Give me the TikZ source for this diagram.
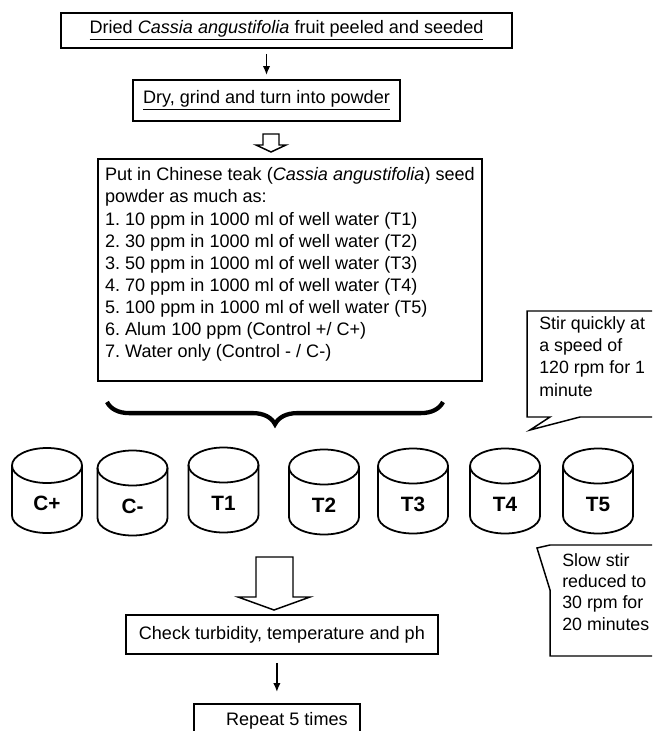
\documentclass[tikz,border=0pt]{standalone}
\usepackage{fontspec}
\setmainfont{Liberation Sans}
\usetikzlibrary{arrows.meta,decorations.pathreplacing}

\def\echelle{0.675pt}

% une cuve : x, y du centre, nom, etiquette
\newcommand{\cuve}[4]{%
  \draw[cuve] (#1,#2-25) ellipse [x radius=35,y radius=17.5];
  \draw[cuve] (#1-35,#2-25) -- (#1-35,#2+25) arc[start angle=180,end angle=0,x radius=35,y radius=17.5] -- (#1+35,#2-25);
  \node[etiquette] (#3) at (#1,#2+13) {#4};
}

\begin{document}
\begin{tikzpicture}[x=\echelle,y=-\echelle]
\tikzstyle{boite}=[draw,line width=1.2pt,inner sep=0pt,font=\fontsize{12.2}{14.9}\selectfont\frenchspacing]
\tikzstyle{cuve}=[line width=1.2pt]
\tikzstyle{etiquette}=[inner sep=0pt,font=\fontsize{14}{16}\selectfont\bfseries]
\tikzstyle{fleche}=[-{Latex[length=6pt,width=5pt]},line width=1.3pt]
\tikzstyle{creuse}=[draw,line width=1pt,fill=white]
\tikzstyle{bulle}=[draw,line width=1pt]
\tikzstyle{texte}=[align=left,inner sep=0pt,anchor=base west,font=\fontsize{12}{14.9}\selectfont]
\tikzstyle{accolade}=[decorate,decoration={brace,amplitude=15pt,mirror},line width=2.9pt]

\clip (0,0) rectangle (652,731);

% etapes
\node[boite,minimum width=451*\echelle,minimum height=35*\echelle] (b1) at (286.5,30.5) {\underline{Dried \textit{Cassia angustifolia} fruit peeled and seeded}};
\node[boite,minimum width=267*\echelle,minimum height=41*\echelle] (b2) at (266.5,100.5) {\underline{Dry, grind and turn into powder}};
\node[boite,anchor=north west,align=left,minimum width=384*\echelle,inner ysep=6pt] (b3) at (97,158) {Put in Chinese teak (\textit{Cassia angustifolia}) seed\\powder as much as:\\1. 10 ppm in 1000 ml of well water (T1)\\2. 30 ppm in 1000 ml of well water (T2)\\3. 50 ppm in 1000 ml of well water (T3)\\4. 70 ppm in 1000 ml of well water (T4)\\5. 100 ppm in 1000 ml of well water (T5)\\6. Alum 100 ppm (Control +/ C+)\\7. Water only (Control - / C-)\rule[-10pt]{0pt}{10pt}};
\node[boite,anchor=west,inner xsep=13*\echelle,minimum height=39*\echelle] (b4) at (125,634.5) {Check turbidity, temperature and ph};
\node[boite,anchor=north west,minimum width=166*\echelle,text height=22*\echelle,text depth=30*\echelle] (b5) at (193,703) {\hspace*{13.5pt}Repeat 5 times};

% cuves
\cuve{47}{490.5}{cp}{C+}
\cuve{132.5}{493}{cm}{C-}
\cuve{223.5}{490}{t1}{T1}
\cuve{324}{492}{t2}{T2}
\cuve{413}{491}{t3}{T3}
\cuve{505}{491}{t4}{T4}
\cuve{598}{491}{t5}{T5}

% fleches
\draw[fleche,shorten <=3.4pt,shorten >=2.7pt] (b1.south -| b2.north) -- (b2.north);
\draw[fleche,shorten <=5.4pt,shorten >=7.4pt] (b4.south -| b5.north) -- (b5.north);
\draw[creuse] (263,134) -- (279,134) -- (279,145) -- (286,145) -- (271,152) -- (256,145) -- (263,145) -- cycle;
\draw[creuse] (256,557) -- (293,557) -- (293,597) -- (310,597) -- (274,610) -- (238,597) -- (256,597) -- cycle;
\draw[accolade] (107,402) -- (443,402);

% bulles
\draw[bulle] (527,311) -- (690,311) -- (690,417) -- (580,417) -- (530,430) -- (550,417) -- (527,417) -- cycle;
\node[texte] (vite) at (539,396) {Stir quickly at\\a speed of\\120 rpm for 1\\minute};
\draw[bulle] (550,545) -- (690,545) -- (690,656) -- (550,656) -- (550,590) -- (537,548) -- cycle;
\node[texte,font=\fontsize{12}{14.2}\selectfont] (lent) at (562,630) {Slow stir\\reduced to\\30 rpm for\\20 minutes};

\end{tikzpicture}
\end{document}
